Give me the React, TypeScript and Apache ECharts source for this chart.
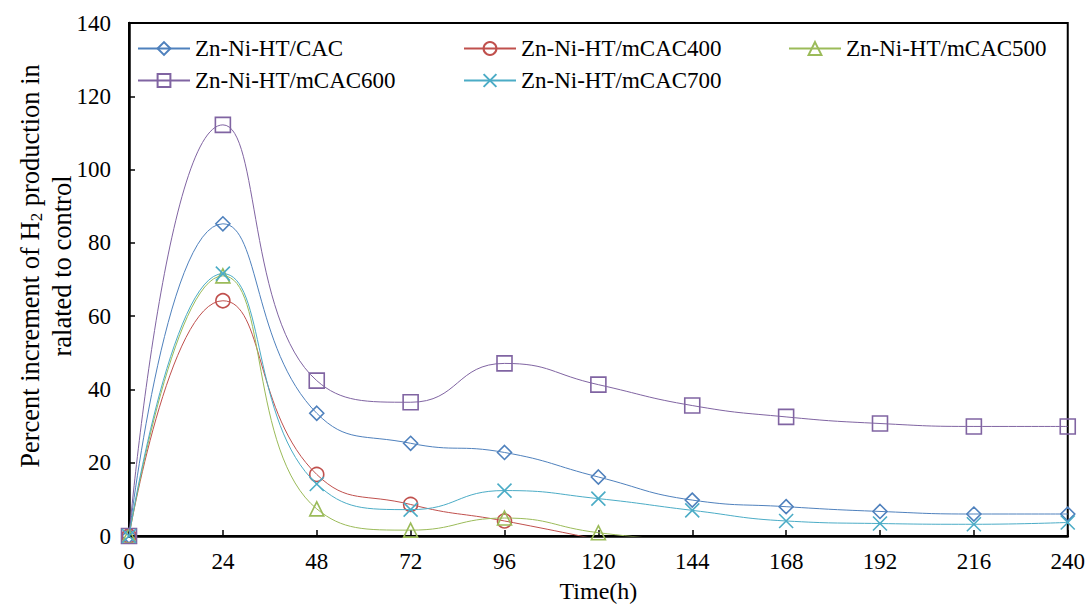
import React, { useEffect, useRef } from "react";
import * as echarts from "echarts";

const times = [0, 24, 48, 72, 96, 120, 144, 168, 192, 216, 240];
const xTicks = { min: 0, max: 240, interval: 24 };
const yTicks = { min: 0, max: 140, interval: 20 };

const seriesNames = [
  "Zn-Ni-HT/CAC",
  "Zn-Ni-HT/mCAC400",
  "Zn-Ni-HT/mCAC500",
  "Zn-Ni-HT/mCAC600",
  "Zn-Ni-HT/mCAC700",
];
const cac = [0, 85.2, 33.5, 25.3, 22.8, 16.1, 9.8, 8.0, 6.7, 6.0, 6.0];
const mcac400 = [0, 64.2, 16.8, 8.6, 4.1, -1.0, null, null, null, null, null];
const mcac500 = [0, 71.0, 7.4, 1.6, 4.9, 0.9, -1.5, null, null, null, null];
const mcac600 = [0, 112.2, 42.4, 36.5, 47.1, 41.3, 35.6, 32.5, 30.7, 29.9, 29.9];
const mcac700 = [0, 71.6, 14.2, 7.2, 12.4, 10.2, 7.0, 4.1, 3.4, 3.2, 3.7];

const seriesValues = [cac, mcac400, mcac500, mcac600, mcac700];
const colors = ["#4F81BD", "#C0504D", "#9BBB59", "#8064A2", "#4BACC6"];
const symbols = [
  "diamond",
  "circle",
  "triangle",
  "rect",
  "path://M0,0 L10,10 M10,0 L0,10",
];
const symbolSizes = [14, 14, 14, 15, 14];
const legendPos = [
  [137, 37],
  [463, 37],
  [788, 37],
  [137, 69],
  [463, 69],
];

const FONT = "'Liberation Serif', 'Times New Roman', serif";
const FS = 23;

export default function App() {
  const ref = useRef<HTMLDivElement>(null);
  useEffect(() => {
    if (!ref.current) return;
    document.body.style.margin = "0";
    const chart = echarts.init(ref.current, undefined, { renderer: "svg" });
    const series = seriesNames.map((name, i) => ({
      name,
      type: "line",
      smooth: 0.5,
      clip: true,
      connectNulls: false,
      symbol: symbols[i],
      symbolSize: symbolSizes[i],
      showAllSymbol: true,
      data: times.map((t, j) => [t, seriesValues[i][j]]),
      lineStyle: { color: colors[i], width: 1 },
      itemStyle: {
        color: "rgba(255,255,255,0)",
        borderColor: colors[i],
        borderWidth: 1.6,
      },
      emphasis: { disabled: true },
      z: 2 + i,
    }));
    const legends = seriesNames.map((name, i) => ({
      data: [name],
      left: legendPos[i][0],
      top: legendPos[i][1],
      padding: 0,
      itemWidth: 52,
      itemHeight: 16,
      itemGap: 0,
      textStyle: { fontFamily: FONT, fontSize: FS, color: "#000" },
      selectedMode: false,
    }));
    chart.setOption({
      animation: false,
      backgroundColor: "#fff",
      grid: {
        left: 129,
        top: 23,
        right: 19,
        bottom: 67,
        show: true,
        borderColor: "#000",
        borderWidth: 2,
        backgroundColor: "transparent",
      },
      legend: legends,
      xAxis: {
        type: "value",
        min: xTicks.min,
        max: xTicks.max,
        interval: xTicks.interval,
        name: "Time(h)",
        nameLocation: "middle",
        nameGap: 43,
        nameTextStyle: { fontFamily: FONT, fontSize: 24, color: "#000" },
        axisLine: { show: true, lineStyle: { color: "#000", width: 2.5 } },
        axisTick: { show: true, inside: true, length: 6, lineStyle: { color: "#000", width: 1.5 } },
        axisLabel: { fontFamily: FONT, fontSize: FS, color: "#000", margin: 14 },
        splitLine: { show: false },
      },
      yAxis: {
        type: "value",
        min: yTicks.min,
        max: yTicks.max,
        interval: yTicks.interval,
        axisLine: { show: true, lineStyle: { color: "#000", width: 2.5 } },
        axisTick: { show: true, inside: true, length: 6, lineStyle: { color: "#000", width: 1.5 } },
        axisLabel: { fontFamily: FONT, fontSize: FS, color: "#000", margin: 18 },
        splitLine: { show: false },
      },
      graphic: [
        {
          type: "text",
          x: 46,
          y: 266,
          rotation: Math.PI / 2,
          style: {
            text: "Percent increment of H{sub|2} production in\nralated to control",
            fontFamily: FONT,
            fontSize: 26.5,
            lineHeight: 32,
            fill: "#000",
            align: "center",
            verticalAlign: "middle",
            rich: {
              sub: { fontFamily: FONT, fontSize: 17, padding: [13, 0, 0, 0], fill: "#000" },
            },
          },
        },
      ],
      series,
    });
    return () => chart.dispose();
  }, []);
  return <div ref={ref} style={{ width: 1088, height: 608 }} />;
}
